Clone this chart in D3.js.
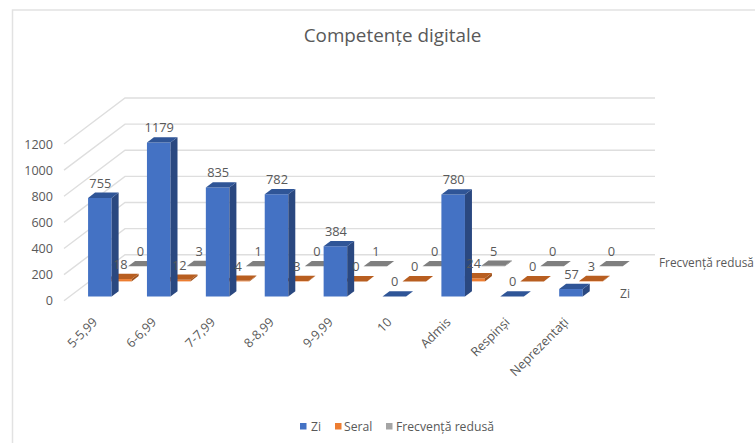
<!DOCTYPE html>
<html><head><meta charset="utf-8">
<script src="https://cdn.jsdelivr.net/npm/d3@7"></script>
<style>html,body{margin:0;padding:0;background:#fff;overflow:hidden}svg{display:block}text{font-family:"Open Sans",sans-serif;fill:#595959}</style>
</head><body><svg id="c" width="755" height="443"></svg>
<script>
const categories=["5-5,99","6-6,99","7-7,99","8-8,99","9-9,99","10","Admis","Respinși","Neprezentați"];
const zi=[755,1179,835,782,384,0,780,0,57];
const seral=[18,12,4,3,0,0,24,0,3];
const frecventa=[0,3,1,0,1,0,5,0,0];
const seriesNames=["Zi","Seral","Frecvență redusă"];
const seriesValues=[zi,seral,frecventa];
const seriesColors=[
 {front:"#4472c4",top:"#2f5597",side:"#2a4880",key:"#4472c4"},
 {front:"#ed7d31",top:"#b85e20",side:"#a0521c",key:"#ed7d31"},
 {front:"#a5a5a5",top:"#7f7f7f",side:"#6b6b6b",key:"#a5a5a5"}];
const yTicks=[0,200,400,600,800,1000,1200];
const chartTitle="Competențe digitale";

const svg=d3.select("#c");
const x=d3.scaleBand().domain(categories).range([64.8,594.8]).paddingInner(0.6).paddingOuter(0.3);
const y=d3.scaleLinear().domain([0,1200]).range([300.7,144]);
const depthX=d3.scaleLinear().domain([0,3.05]).range([0,61]);
const depthY=d3.scaleLinear().domain([0,3.05]).range([0,-46]);
const rowStart=0.28,rowDepth=0.35;
const P=(px,v,d)=>[px+depthX(d),y(v)+depthY(d)];
const poly=(pts,fill,g)=>g.append("polygon").attr("points",pts.map(p=>p.join(",")).join(" ")).attr("fill",fill);

svg.append("path").attr("d","M12.5,443V10H755").attr("fill","none").attr("stroke","#e2e2e2").attr("stroke-width",1.5);

svg.append("text").attr("x",392.5).attr("y",41.5).attr("text-anchor","middle").style("font-size","18.85px").text(chartTitle);

const grid=svg.append("g").attr("fill","none").attr("stroke","#dedede").attr("stroke-width",1.4);
yTicks.forEach(t=>{
  const a=P(64,t,0),b=P(64,t,3.05),c=P(594,t,3.05);
  grid.append("path").attr("d",d3.line()([a,b,c]));
});

const ax=svg.append("g").attr("transform","translate(56,0)").call(d3.axisLeft(y).tickValues(yTicks).tickFormat(d3.format("d")).tickSize(0).tickPadding(3));
ax.select(".domain").remove();
ax.selectAll("text").style("font-size","12.6px").attr("font-family",null).attr("fill","#595959");

const cx=svg.append("g").attr("transform","translate(-2,317)").call(d3.axisBottom(x).tickSize(0).tickPadding(0));
cx.select(".domain").remove();
cx.selectAll("text").style("font-size","12.6px").attr("font-family",null)
  .attr("text-anchor","end").attr("dy","0.35em").attr("transform","rotate(-45) translate(0,4)");

const bars=svg.append("g");
const labels=[];
[2,1,0].forEach(r=>{
  const d0=r+rowStart,d1=d0+rowDepth,col=seriesColors[r];
  seriesValues[r].forEach((v,i)=>{
    const xl=x(categories[i]),xr=xl+x.bandwidth(),g=bars.append("g");
    if(v>0){
      poly([P(xl,0,d0),P(xr,0,d0),P(xr,v,d0),P(xl,v,d0)],col.front,g);
      poly([P(xr,0,d0),P(xr,0,d1),P(xr,v,d1),P(xr,v,d0)],col.side,g);
    }
    poly([P(xl,v,d0),P(xr,v,d0),P(xr,v,d1),P(xl,v,d1)],col.top,g);
    const c=P((xl+xr)/2,v,(d0+d1)/2);
    labels.push({x:c[0]-3,y:c[1]-12,v});
  });
});
svg.append("g").selectAll("text").data(labels).join("text")
  .attr("x",d=>d.x).attr("y",d=>d.y).attr("dy","0.35em").attr("text-anchor","middle")
  .style("font-size","12.8px").text(d=>d.v);

const depthLabels=[{name:seriesNames[0],lx:620,ly:294,fs:12.2},{name:seriesNames[2],lx:659,ly:263,fs:11.8}];
svg.append("g").selectAll("text").data(depthLabels).join("text")
  .attr("x",d=>d.lx).attr("y",d=>d.ly).attr("dy","0.35em").style("font-size",d=>d.fs+"px").text(d=>d.name);

const legX=[300,335,386],legTx=[311,344,396];
const leg=svg.append("g");
seriesNames.forEach((n,i)=>{
  leg.append("rect").attr("x",legX[i]).attr("y",423).attr("width",6.5).attr("height",6.5).attr("fill",seriesColors[i].key);
  leg.append("text").attr("x",legTx[i]).attr("y",426.5).attr("dy","0.35em").style("font-size","12.2px").text(n);
});
</script></body></html>
